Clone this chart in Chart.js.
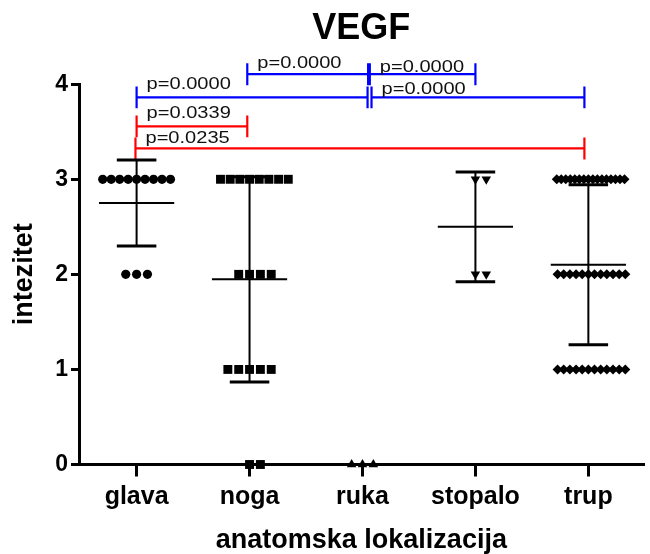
<!DOCTYPE html>
<html>
<head>
<meta charset="utf-8">
<script src="https://cdn.jsdelivr.net/npm/chart.js@4.4.1/dist/chart.umd.min.js"></script>
<style>
  html, body { margin: 0; padding: 0; background: #fff; }
</style>
</head>
<body>
<canvas id="vegf" width="650" height="554"></canvas>
<script>
const categories = ['glava', 'noga', 'ruka', 'stopalo', 'trup']
const yTicks = [0, 1, 2, 3, 4]

// intensity scores per location
const glava = [3, 3, 3, 3, 3, 3, 3, 3, 3, 2, 2, 2]
const noga = [3, 3, 3, 3, 3, 3, 3, 3, 2, 2, 2, 2, 1, 1, 1, 1, 1, 0, 0]
const ruka = [0, 0, 0]
const stopalo = [3, 3, 2, 2]
const trup = [
  3, 3, 3, 3, 3, 3, 3, 3, 3, 3, 3, 3, 3, 3, 3, 3,
  2, 2, 2, 2, 2, 2, 2, 2, 2, 2, 2, 2,
  1, 1, 1, 1, 1, 1, 1, 1, 1, 1, 1, 1
]

// pairwise comparisons (category index from/to, bracket height, p label)
const cmpFrom = [1, 2, 0, 2, 0, 0]
const cmpTo = [2, 3, 2, 4, 1, 4]
const cmpLevel = [4.105, 4.105, 3.862, 3.862, 3.556, 3.324]
const cmpP = ['p=0.0000', 'p=0.0000', 'p=0.0000', 'p=0.0000', 'p=0.0339', 'p=0.0235']

const BLUE = '#0000ff'
const RED = '#ff0000'
const cmpColor = [BLUE, BLUE, BLUE, BLUE, RED, RED]
// small shifts so brackets meeting at the same group don't overlap
const nudgeFrom = [-0.02, 0.065, 0, 0.08, 0, -0.01]
const nudgeTo = [0.05, 0, 0.045, -0.035, -0.02, -0.035]
const labelLift = [6, 2, 8, 3, 8, 5]

Chart.defaults.font.family = "'Liberation Sans', Arial, sans-serif"
Chart.defaults.color = '#000'

const STEP = 0.096
const MAXW = 0.6
const MEAN_HALF = 0.333
const CAP_HALF = 0.175

function spread (values, idx) {
  const counts = {}
  values.forEach(v => { counts[v] = (counts[v] || 0) + 1 })
  const seen = {}
  return values.map(v => {
    const k = counts[v]
    seen[v] = seen[v] === undefined ? 0 : seen[v] + 1
    const i = seen[v]
    const s = k > 1 ? Math.min(STEP, MAXW / (k - 1)) : 0
    const slot = i === 0 ? 0 : (i % 2 ? 1 : -1) * Math.ceil(i / 2)
    return { x: idx + slot * s, y: v }
  })
}

function stats (v) {
  const n = v.length
  const m = v.reduce((a, b) => a + b, 0) / n
  const sd = n > 1 ? Math.sqrt(v.reduce((a, b) => a + (b - m) ** 2, 0) / (n - 1)) : 0
  return { m, sd }
}

const groups = [glava, noga, ruka, stopalo, trup]
const styles = [
  { pointStyle: 'circle', radius: 4.6, rotation: 0 },
  { pointStyle: 'rect', radius: 6.3, rotation: 0 },
  { pointStyle: 'triangle', radius: 5.5, rotation: 0 },
  { pointStyle: 'triangle', radius: 5.5, rotation: 180 },
  { pointStyle: 'rectRot', radius: 5, rotation: 0 }
]

const gap = { x: null, y: null }
const meanPts = []
const sdPts = []
const capPts = []
groups.forEach((g, i) => {
  const { m, sd } = stats(g)
  meanPts.push({ x: i - MEAN_HALF, y: m }, { x: i + MEAN_HALF, y: m }, gap)
  if (sd > 0) {
    sdPts.push({ x: i, y: m - sd }, { x: i, y: m + sd }, gap)
    capPts.push({ x: i - CAP_HALF, y: m + sd }, { x: i + CAP_HALF, y: m + sd }, gap)
    capPts.push({ x: i - CAP_HALF, y: m - sd }, { x: i + CAP_HALF, y: m - sd }, gap)
  }
})

const pointSets = groups.map((g, i) => ({
  data: spread(g, i),
  pointStyle: styles[i].pointStyle,
  pointRadius: styles[i].radius,
  rotation: styles[i].rotation,
  backgroundColor: '#000',
  borderColor: '#000',
  borderWidth: 0,
  clip: false
}))

const TICK_H = 0.115
const bracketSets = cmpFrom.map((f, i) => {
  const a = f + nudgeFrom[i]
  const b = cmpTo[i] + nudgeTo[i]
  const L = cmpLevel[i]
  return {
    data: [
      { x: a, y: L }, { x: b, y: L }, gap,
      { x: a, y: L + TICK_H }, { x: a, y: L - TICK_H }, gap,
      { x: b, y: L + TICK_H }, { x: b, y: L - TICK_H }
    ],
    showLine: true,
    borderColor: cmpColor[i],
    borderWidth: 2.2,
    pointRadius: 0,
    spanGaps: false,
    clip: false
  }
})

const lineSet = (data, width) => ({
  data,
  showLine: true,
  borderColor: '#000',
  borderWidth: width,
  pointRadius: 0,
  spanGaps: false,
  clip: false
})

const pLabels = {
  id: 'pLabels',
  afterDatasetsDraw (chart) {
    const { ctx, scales } = chart
    ctx.save()
    ctx.font = "17px 'Liberation Sans', Arial, sans-serif"
    ctx.fillStyle = '#111'
    ctx.textBaseline = 'alphabetic'
    cmpP.forEach((t, i) => {
      const x = scales.x.getPixelForValue(cmpFrom[i] + nudgeFrom[i]) + 10
      const y = scales.y.getPixelForValue(cmpLevel[i]) - labelLift[i]
      ctx.save()
      ctx.translate(x, y)
      ctx.scale(1.18, 1)
      ctx.fillText(t, 0, 0)
      ctx.restore()
    })
    ctx.restore()
  }
}

new Chart(document.getElementById('vegf'), { // eslint-disable-line
  type: 'scatter',
  data: {
    datasets: [
      ...pointSets,
      lineSet(meanPts, 2),
      lineSet(sdPts, 2),
      lineSet(capPts, 3),
      ...bracketSets
    ]
  },
  options: {
    responsive: false,
    animation: false,
    layout: { padding: 0 },
    plugins: {
      legend: { display: false },
      tooltip: { enabled: false },
      title: {
        display: true,
        text: 'VEGF',
        fullSize: false,
        color: '#000',
        font: { size: 36, weight: 'bold' },
        padding: { top: 7, bottom: 34 }
      }
    },
    scales: {
      x: {
        type: 'linear',
        min: -0.51,
        max: 4.49,
        afterBuildTicks: s => { s.ticks = categories.map((c, i) => ({ value: i })) },
        afterFit: s => { s.height = 89.5 },
        ticks: {
          callback: v => categories[v],
          color: '#000',
          font: { size: 25, weight: 'bold' },
          padding: 6,
          maxRotation: 0,
          autoSkip: false
        },
        grid: { drawOnChartArea: false, drawTicks: true, tickLength: 12, lineWidth: 3, color: '#000' },
        border: { display: true, width: 3, color: '#000' },
        title: {
          display: true,
          text: 'anatomska lokalizacija',
          color: '#000',
          font: { size: 27, weight: 'bold' },
          padding: { top: 0, bottom: -3 }
        }
      },
      y: {
        min: 0,
        max: 4,
        afterBuildTicks: s => { s.ticks = yTicks.map(v => ({ value: v })) },
        afterFit: s => { s.width = 79 },
        ticks: {
          color: '#000',
          font: { size: 23, weight: 'bold' },
          padding: 3
        },
        grid: { drawOnChartArea: false, drawTicks: true, tickLength: 8, lineWidth: 3, color: '#000' },
        border: { display: true, width: 3, color: '#000' },
        title: {
          display: true,
          text: 'intezitet',
          color: '#000',
          font: { size: 27, weight: 'bold' },
          padding: { top: 8, bottom: 0 }
        }
      }
    }
  },
  plugins: [pLabels]
})
</script>
</body>
</html>
